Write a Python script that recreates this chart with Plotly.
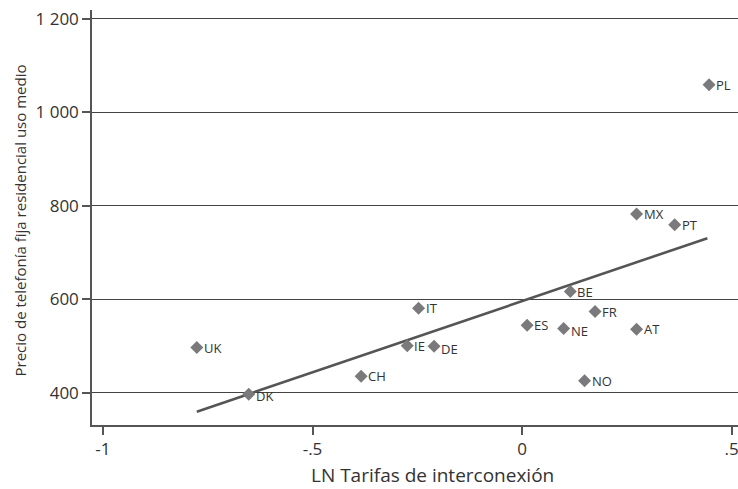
import plotly.graph_objects as go

countries = ["PL", "MX", "PT", "BE", "FR", "ES", "NE", "AT", "NO",
             "UK", "IT", "IE", "DE", "CH", "DK"]
ln_tarifas = [0.446, 0.273, 0.364, 0.115, 0.174, 0.012, 0.099, 0.273, 0.149,
              -0.776, -0.247, -0.274, -0.210, -0.384, -0.652]
precio = [1059, 783, 760, 617, 574, 545, 538, 536, 426,
          497, 581, 501, 500, 436, 397]

fit_x = [-0.776, 0.442]
fit_y = [360, 731]

y_tickvals = [400, 600, 800, 1000, 1200]
y_ticktext = ["400", "600", "800", "1 000", "1 200"]
x_tickvals = [-1, -0.5, 0, 0.5]
x_ticktext = ["-1", "-.5", "0", ".5"]

x_title = "LN Tarifas de interconexión"
y_title = 'Precio de telefonía <span style="font-variant-ligatures:none">fija</span> residencial uso medio'

# label vertical offsets (px) for some labels drawn slightly lower
label_shift = {"DE": -3, "NE": -3, "DK": -2}

FONT = "Open Sans"
TXT = "#333333"
MARK = "#7a7a7c"

fig = go.Figure()
fig.add_trace(go.Scatter(x=fit_x, y=fit_y, mode="lines",
                         line=dict(color="#555555", width=2.6),
                         hoverinfo="skip", showlegend=False))
fig.add_trace(go.Scatter(x=ln_tarifas, y=precio, mode="markers",
                         marker=dict(symbol="diamond", size=10, color=MARK,
                                     line=dict(width=0)),
                         showlegend=False))

for c, xv, yv in zip(countries, ln_tarifas, precio):
    fig.add_annotation(x=xv, y=yv, text=c, showarrow=False,
                       xanchor="left", yanchor="middle", xshift=5,
                       yshift=label_shift.get(c, 0),
                       font=dict(family=FONT, size=13, color=TXT))

fig.add_annotation(xref="paper", yref="paper", x=(432 - 92) / 646, y=-64 / 415,
                   yanchor="bottom", xanchor="center", showarrow=False, borderpad=0,
                   text=x_title, font=dict(family=FONT, size=19, color=TXT))
fig.add_annotation(xref="paper", yref="paper", x=(19 - 92) / 646, y=0.5, xanchor="center",
                   yanchor="middle", yshift=-3, textangle=-90, showarrow=False,
                   text=y_title, font=dict(family=FONT, size=15, color=TXT))

fig.update_layout(
    width=738, height=489,
    margin=dict(l=92, r=0, t=10, b=64, autoexpand=False),
    paper_bgcolor="white", plot_bgcolor="white",
    font=dict(family=FONT, color=TXT),
)
fig.update_xaxes(range=[-1.026, 0.515], tickvals=x_tickvals, ticktext=x_ticktext,
                 showgrid=False, zeroline=False, automargin=False,
                 ticklabeloverflow="allow",
                 showline=True, linecolor="#555555", linewidth=1.5,
                 ticks="outside", ticklen=8, tickcolor="#555555", tickwidth=1.5,
                 tickfont=dict(family=FONT, size=17, color=TXT))
fig.update_yaxes(range=[331.5, 1219], tickvals=y_tickvals, ticktext=y_ticktext,
                 showgrid=True, gridcolor="#444444", gridwidth=1, zeroline=False,
                 automargin=False, ticklabeloverflow="allow",
                 showline=True, linecolor="#555555", linewidth=1.5,
                 ticks="outside", ticklen=8, tickcolor="#555555", tickwidth=1.5,
                 tickfont=dict(family=FONT, size=17, color=TXT))

fig.write_html("out.html", config={"displayModeBar": False},
               post_script="document.body.style.margin='0';document.body.style.overflow='hidden';")
